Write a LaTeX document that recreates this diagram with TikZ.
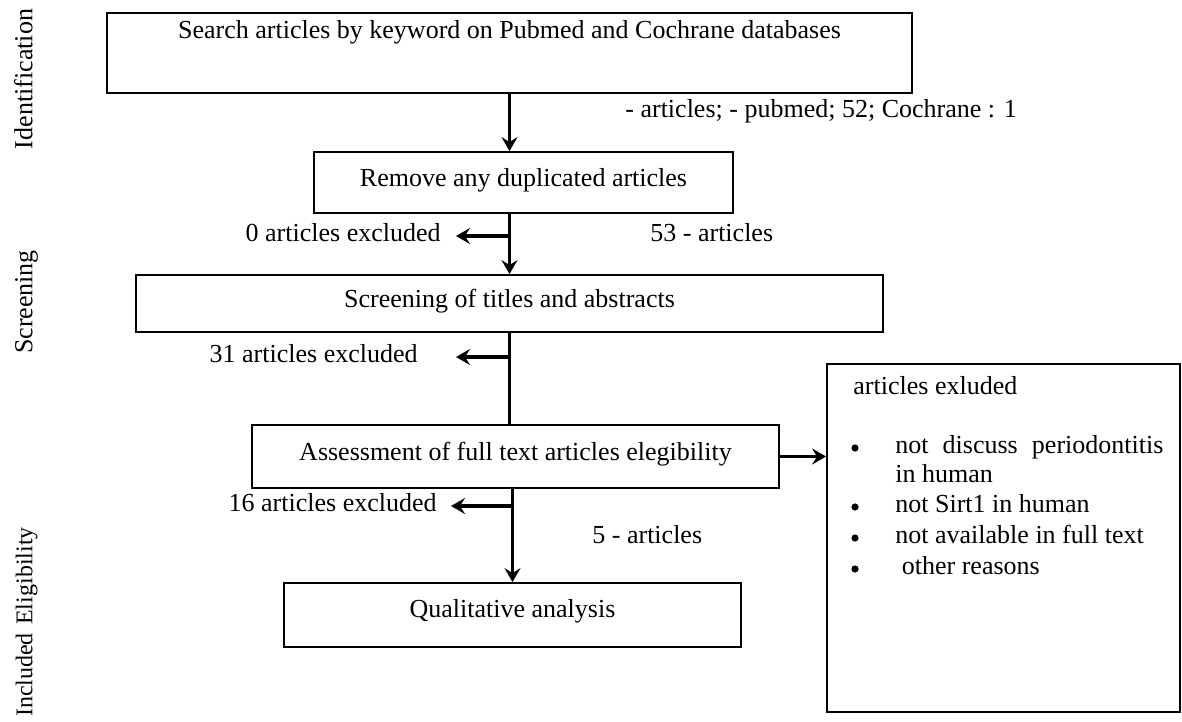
\documentclass[tikz,border=0pt]{standalone}
\usepackage{fontspec}
\setmainfont{Liberation Serif}
\usetikzlibrary{arrows.meta,positioning}
\tikzset{
  stagebox/.style={draw,line width=0.9pt,inner sep=0pt,text depth=4pt},
  flow/.style={line width=1.7pt,-{Stealth[length=7pt,width=8pt,inset=2.5pt]}},
  plain/.style={line width=1.7pt},
  lbl/.style={inner sep=0pt,text height=8pt,text depth=2.5pt},
  phase/.style={lbl,rotate=90},
  dot/.style={circle,fill,inner sep=0pt,minimum size=3.6pt}
}
\begin{document}
\begin{tikzpicture}[x=0.5pt,y=-0.5pt,font=\fontsize{13}{15}\selectfont]
\useasboundingbox (0,0) rectangle (1182,722);
\node[phase] (idf) at (27,79) {Identification};
\node[phase] (scr) at (27,302) {Screening};
\node[phase,font=\fontsize{12}{14}\selectfont] (elg) at (27,576) {Eligibility};
\node[phase,font=\fontsize{12}{14}\selectfont] (inc) at (27,675) {Included};

\node[stagebox,minimum width=402.5pt,minimum height=40pt] (search) at (509.5,53) {};
\node[lbl] (searchtxt) at (509.5,33) {Search articles by keyword on Pubmed and Cochrane databases};
\node[stagebox,lbl,text depth=4pt,minimum width=209.5pt,minimum height=30.5pt] (dup) at (523.5,182.5) {Remove any duplicated articles};
\node[stagebox,lbl,text depth=4pt,minimum width=373.5pt,minimum height=28.5pt] (scrn) at (509.5,303.5) {Screening of titles and abstracts};
\node[stagebox,lbl,text depth=4.5pt,minimum width=263.5pt,minimum height=31.5pt] (full) at (515.5,456.5) {Assessment of full text articles elegibility};
\node[stagebox,lbl,text depth=6pt,minimum width=228.5pt,minimum height=32pt] (qual) at (512.5,615) {Qualitative analysis};
\node[stagebox,minimum width=176.5pt,minimum height=174pt] (excl) at (1003.5,538) {};

\node[lbl,anchor=west] (srccount) at (625,112) {- articles; - pubmed; 52; Cochrane : 1};
\node[lbl,anchor=east] (ex0) at (441,236) {0 articles excluded};
\node[lbl,anchor=west] (n53) at (650,236) {53 - articles};
\node[lbl,anchor=east] (ex31) at (418,357) {31 articles excluded};
\node[lbl,anchor=east] (ex16) at (437,506) {16 articles excluded};
\node[lbl,anchor=west] (n5) at (592,538) {5 - articles};

\draw[flow] (search.south) -- (search.south |- dup.north);
\draw[flow] (search.south |- dup.south) -- (search.south |- scrn.north);
\draw[flow] (search.south |- ex0) -- ([xshift=7.5pt]ex0.east);
\draw[plain] (scrn.south) -- (scrn.south |- full.north);
\draw[flow] (scrn.south |- ex31) -- ([xshift=19pt]ex31.east);
\draw[flow] (full.east) -- (full.east -| excl.west);
\draw[flow] (qual.north |- full.south) -- (qual.north);
\draw[flow] (qual.north |- ex16) -- ([xshift=7pt]ex16.east);

\node[lbl,anchor=west] (exhd) at (853,389) {articles exluded};
\foreach \yy/\txt in {448/{\hbox to 134pt{not\hfill discuss\hfill periodontitis}},477/in human,507/not Sirt1 in human,538/not available in full text,569/\ other reasons}
  \node[lbl,anchor=west] at (895,\yy) {\txt};
\foreach \yy in {448,507,538,569}
  \node[dot] at (855,\yy) {};
\end{tikzpicture}
\end{document}
